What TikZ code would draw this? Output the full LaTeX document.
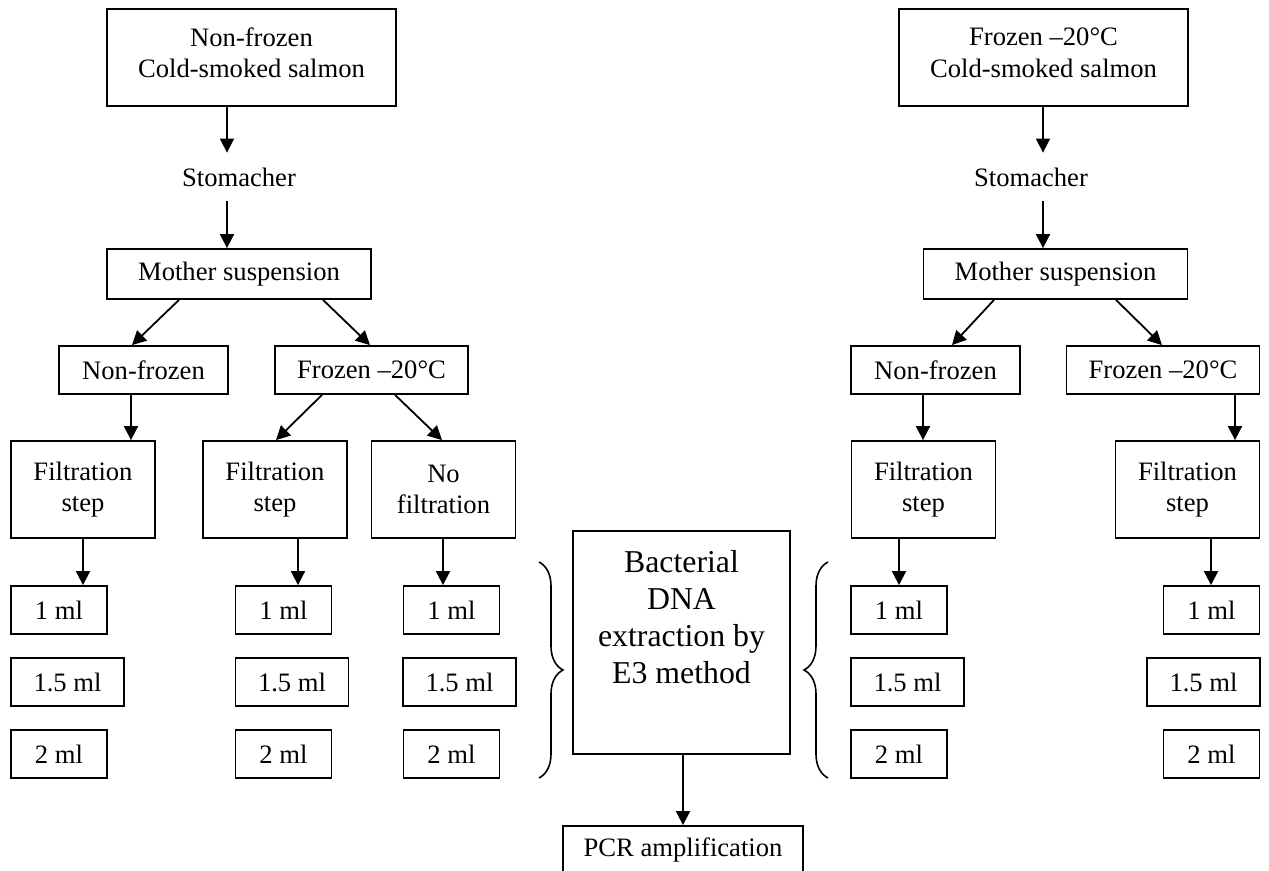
\documentclass[tikz,border=0pt]{standalone}
\usepackage{fontspec}
\setmainfont{Liberation Serif}
\usetikzlibrary{arrows.meta,decorations.pathreplacing}
\begin{document}
\begin{tikzpicture}[x=0.5pt,y=-0.5pt,
  every node/.style={font=\fontsize{13.3}{15.85}\selectfont, inner sep=0pt, align=center},
  box/.style={draw, line width=0.9pt},
  topbox/.style={box, minimum width=144.5pt, minimum height=48.5pt, text depth=5pt},
  motherbox/.style={box, minimum width=132pt, minimum height=25pt},
  nfbox/.style={box, minimum width=84.5pt, minimum height=24pt},
  fzbox/.style={box, minimum width=96.5pt, minimum height=24pt},
  filtbox/.style={box, minimum width=72pt, minimum height=48.5pt},
  mlbox/.style={box, minimum width=48pt, minimum height=24pt},
  mlwbox/.style={box, minimum width=56.5pt, minimum height=24pt},
  plain/.style={minimum height=24pt},
  arr/.style={line width=0.9pt, -{Triangle[length=7pt,width=7pt]}},
  curly/.style={line width=0.8pt, decorate, decoration={brace, amplitude=12pt}}
]
\useasboundingbox (0,0) rectangle (1269,871);

% ---------------- left branch ----------------
\node[topbox] (top1) at (251.5,57.5) {Non-frozen\\Cold-smoked salmon};
\node[plain] (stom1) at (239,177) {Stomacher};
\node[motherbox] (mother1) at (239,274) {Mother suspension};
\node[nfbox] (nf1) at (143.5,370) {Non-frozen};
\node[fzbox] (fz1) at (371.5,370) {Frozen –20°C};
\node[filtbox] (filt1) at (83,489.5) {Filtration\\step};
\node[filtbox] (filt2) at (275,489.5) {Filtration\\step};
\node[filtbox] (nofilt) at (443.5,489.5) {No\\filtration};

\node[mlbox] (a1) at (59,610) {1 ml};
\node[mlwbox] (a2) at (67.5,682) {1.5 ml};
\node[mlbox] (a3) at (59,754) {2 ml};
\node[mlbox] (b1) at (283.5,610) {1 ml};
\node[mlwbox] (b2) at (292,682) {1.5 ml};
\node[mlbox] (b3) at (283.5,754) {2 ml};
\node[mlbox] (c1) at (451.5,610) {1 ml};
\node[mlwbox] (c2) at (459.5,682) {1.5 ml};
\node[mlbox] (c3) at (451.5,754) {2 ml};

\draw[arr] ([xshift=-12.25pt]top1.south) -- ([xshift=-6pt]stom1.north);
\draw[arr] ([xshift=-6pt]stom1.south) -- ([xshift=-6pt]mother1.north);
\draw[arr] ([xshift=-30pt]mother1.south) -- ([xshift=-5.75pt]nf1.north);
\draw[arr] ([xshift=42pt]mother1.south) -- ([xshift=-0.75pt]fz1.north);
\draw[arr] ([xshift=-6.25pt]nf1.south) -- ([xshift=24pt]filt1.north);
\draw[arr] ([xshift=-24.75pt]fz1.south) -- ([xshift=0.5pt]filt2.north);
\draw[arr] ([xshift=11.75pt]fz1.south) -- ([xshift=-0.75pt]nofilt.north);
\draw[arr] (filt1.south) -- ([xshift=12pt]a1.north);
\draw[arr] ([xshift=11.5pt]filt2.south) -- ([xshift=7.25pt]b1.north);
\draw[arr] ([xshift=-0.25pt]nofilt.south) -- ([xshift=-4.25pt]c1.north);

% ---------------- centre ----------------
\coordinate (lbtop) at (539,562);
\coordinate (lbbot) at (539,778);
\draw[curly] (lbtop) -- (lbbot);
\node[box, minimum width=108.5pt, minimum height=111.5pt] (bact) at (681.5,642.5) {};
\node[font=\fontsize{15.9}{18.5}\selectfont] (bacttext) at (681.5,617) {Bacterial\\DNA\\extraction by\\E3 method};
\coordinate (rbtop) at (828,562);
\coordinate (rbbot) at (828,778);
\draw[curly] (rbbot) -- (rbtop);
\node[box, minimum width=120pt, minimum height=24pt] (pcr) at (683,850) {PCR amplification};
\draw[arr] ([xshift=0.75pt]bact.south) -- (pcr.north);

% ---------------- right branch ----------------
\node[topbox] (top2) at (1043.5,57.5) {Frozen –20°C\\Cold-smoked salmon};
\node[plain] (stom2) at (1031,177) {Stomacher};
\node[motherbox] (mother2) at (1055.5,274) {Mother suspension};
\node[nfbox] (nf2) at (935.5,370) {Non-frozen};
\node[fzbox] (fz2) at (1163,370) {Frozen –20°C};
\node[filtbox] (filt4) at (923.5,489.5) {Filtration\\step};
\node[filtbox] (filt5) at (1187.5,489.5) {Filtration\\step};

\node[mlbox] (d1) at (899,610) {1 ml};
\node[mlwbox] (d2) at (907.5,682) {1.5 ml};
\node[mlbox] (d3) at (899,754) {2 ml};
\node[mlbox] (e1) at (1211.5,610) {1 ml};
\node[mlwbox] (e2) at (1203.5,682) {1.5 ml};
\node[mlbox] (e3) at (1211.5,754) {2 ml};

\draw[arr] ([xshift=-0.25pt]top2.south) -- ([xshift=6pt]stom2.north);
\draw[arr] ([xshift=6pt]stom2.south) -- ([xshift=-6.25pt]mother2.north);
\draw[arr] ([xshift=-30.75pt]mother2.south) -- ([xshift=8.25pt]nf2.north);
\draw[arr] ([xshift=30.25pt]mother2.south) -- ([xshift=-0.5pt]fz2.north);
\draw[arr] ([xshift=-6.25pt]nf2.south) -- ([xshift=-0.25pt]filt4.north);
\draw[arr] ([xshift=36pt]fz2.south) -- ([xshift=23.75pt]filt5.north);
\draw[arr] ([xshift=-12.25pt]filt4.south) -- (d1.north);
\draw[arr] ([xshift=11.75pt]filt5.south) -- ([xshift=-0.25pt]e1.north);
\end{tikzpicture}
\end{document}
